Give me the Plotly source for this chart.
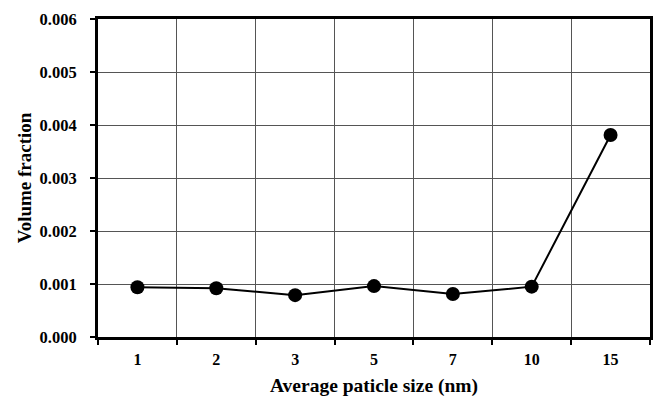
import plotly.graph_objects as go

categories = ["1", "2", "3", "5", "7", "10", "15"]
volume_fraction = [0.00094, 0.00092, 0.00079, 0.00096, 0.00081, 0.00095, 0.00381]
y_ticks = [0.000, 0.001, 0.002, 0.003, 0.004, 0.005, 0.006]
y_tick_labels = ["0.000", "0.001", "0.002", "0.003", "0.004", "0.005", "0.006"]

xpos = list(range(1, len(categories) + 1))

font_family = "Liberation Serif"

fig = go.Figure()
fig.add_trace(go.Scatter(
    x=xpos, y=volume_fraction, mode="lines+markers",
    line=dict(color="black", width=2),
    marker=dict(color="black", size=14),
    showlegend=False, cliponaxis=False,
))

fig.update_layout(
    width=656, height=403,
    margin=dict(l=98, r=3, t=19, b=66),
    paper_bgcolor="white", plot_bgcolor="white",
    font=dict(family=font_family, size=16, color="black"),
    xaxis=dict(
        range=[0.5, len(categories) + 0.5],
        tickvals=xpos, ticktext=["<b>%s</b>" % c for c in categories],
        ticks="outside", ticklen=6, tickcolor="rgba(0,0,0,0)",
        showgrid=False, zeroline=False,
        showline=True, linecolor="black", linewidth=3, mirror=True,
        tickfont=dict(family=font_family, size=16, color="black"),
        minor=dict(tick0=0.5, dtick=1, ticks="outside", ticklen=5, tickwidth=2,
                   tickcolor="black", showgrid=True, gridcolor="#555555", gridwidth=1),
        title=dict(text="<b>Average paticle size (nm)</b>", standoff=12,
                   font=dict(family=font_family, size=19.5, color="black")),
    ),
    yaxis=dict(
        range=[0, 0.006],
        tickvals=y_ticks, ticktext=["<b>%s</b>" % t for t in y_tick_labels],
        ticks="outside", ticklen=5, tickwidth=2, tickcolor="black",
        ticklabelstandoff=10,
        showgrid=True, gridcolor="#555555", gridwidth=1, zeroline=False,
        showline=True, linecolor="black", linewidth=3, mirror=True,
        tickfont=dict(family=font_family, size=16.5, color="black"),
        title=dict(text="<b>Volume fraction</b>", standoff=3,
                   font=dict(family=font_family, size=19, color="black")),
    ),
)

fig.write_html("out.html")
